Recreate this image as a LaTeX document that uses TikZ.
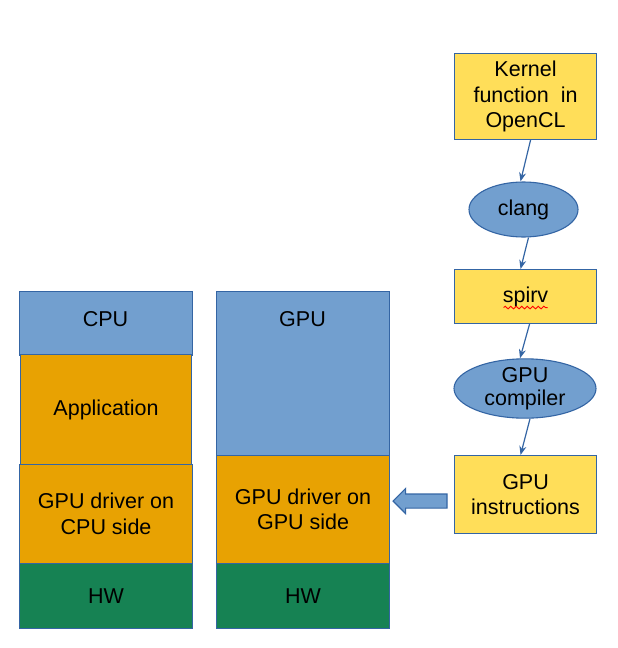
\documentclass[tikz,border=0pt]{standalone}
\usepackage{fontspec}
\setmainfont{Liberation Sans}
\usetikzlibrary{shapes.geometric,shapes.arrows,arrows.meta,decorations.pathmorphing,calc}
\definecolor{lblue}{HTML}{729FCF}
\definecolor{dblue}{HTML}{3465A4}
\definecolor{orng}{HTML}{E8A202}
\definecolor{grn}{HTML}{168253}
\definecolor{yel}{HTML}{FFDE59}
\begin{document}
\begin{tikzpicture}[x=1pt,y=-1pt,
  txt/.style={font=\fontsize{21.5}{25.5}\selectfont,align=center},
  box/.style={draw=dblue,line width=1.1pt,rectangle,inner sep=0pt,anchor=north west,txt},
  bluebox/.style={box,fill=lblue},
  orbox/.style={box,fill=orng},
  hwbox/.style={box,fill=grn},
  yelbox/.style={box,fill=yel},
  oval/.style={ellipse,draw=dblue,line width=1.1pt,fill=lblue,inner sep=0pt,txt},
  conn/.style={draw=dblue,line width=1.2pt,-{Stealth[length=9pt,width=7pt]}}]
\useasboundingbox (0,0) rectangle (618,648);
% CPU column
\node[bluebox,minimum width=173pt,minimum height=64pt] (cpu) at (19,291) {};
\node[txt] (cpulbl) at (105.5,319) {CPU};
\node[orbox,minimum width=171pt,minimum height=110pt] (app) at (20,354) {Application};
\node[orbox,minimum width=173pt,minimum height=99pt] (cdrv) at (19,464) {GPU driver on\\CPU side};
\node[hwbox,minimum width=173pt,minimum height=65pt] (chw) at (19,563) {HW};
% GPU column
\node[bluebox,minimum width=173pt,minimum height=164pt] (gpu) at (216,291) {};
\node[txt] (gpulbl) at (302.5,319) {GPU};
\node[orbox,minimum width=173pt,minimum height=108pt] (gdrv) at (216,455) {GPU driver on\\GPU side};
\node[hwbox,minimum width=173pt,minimum height=65pt] (ghw) at (216,563) {HW};
% right chain
\node[yelbox,minimum width=142pt,minimum height=86pt] (kern) at (454,53) {Kernel\\function~~in\\OpenCL};
\node[oval,minimum width=109pt,minimum height=55pt] (clang) at (523.5,209.5) {clang};
\node[yelbox,minimum width=142pt,minimum height=54pt] (spirv) at (454,269) {spirv};
\node[oval,minimum width=142pt,minimum height=57pt] (gcomp) at (525,388.5) {GPU\\[-3pt]compiler};
\node[yelbox,minimum width=142pt,minimum height=78pt] (instr) at (454,455) {GPU\\instructions};
% wavy underline
\draw[red,line width=0.9pt,decorate,decoration={snake,amplitude=1.3pt,segment length=5.5pt}]
  ($(spirv.center)+(-22,11)$) -- ($(spirv.center)+(22,11)$);
% connectors
\draw[conn] ([xshift=5pt]kern.south) -- ([xshift=-3pt]clang.north);
\draw[conn] ([xshift=5pt]clang.south) -- ([xshift=-5pt]spirv.north);
\draw[conn] ([xshift=4pt]spirv.south) -- ([xshift=-5pt]gcomp.north);
\draw[conn] ([xshift=5pt]gcomp.south) -- ([xshift=-5pt]instr.north);
% block arrow
\node[single arrow,draw=dblue,fill=lblue,line width=1.1pt,shape border rotate=180,
  minimum height=54pt,inner xsep=0pt,inner ysep=6.5pt,single arrow head extend=5.5pt]
  (push) at ($(instr.west)!0.5!(gdrv.east)+(1.5,-1)$) {};
\end{tikzpicture}
\end{document}
